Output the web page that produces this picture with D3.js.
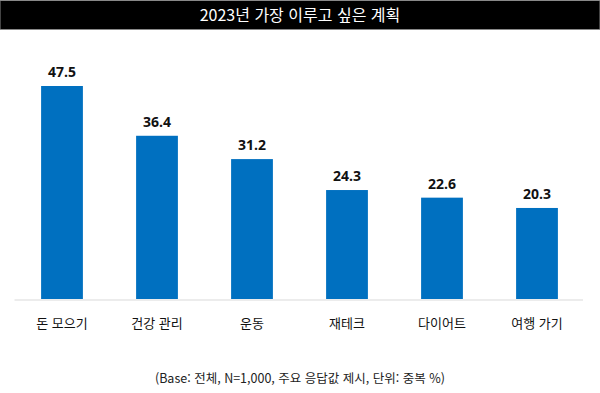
<!DOCTYPE html>
<html lang="ko">
<head>
    <meta charset="UTF-8">
    <title>2023년 가장 이루고 싶은 계획</title>
    <script src="https://d3js.org/d3.v7.min.js"></script>
    <style>
        body { margin: 0; background: #fff; }
        .cat { font-family: "Noto Sans CJK KR", sans-serif; font-size: 13px; fill: #111; }
        .val { font-family: "Open Sans", "Noto Sans", sans-serif; font-size: 14px; font-weight: 700; fill: #111; }
        .title { font-family: "Noto Sans CJK KR", sans-serif; font-size: 16px; fill: #fff; }
        .note { font-family: "Noto Sans CJK KR", sans-serif; font-size: 12.5px; fill: #222; }
    </style>
</head>
<body>
<div id="chart"></div>
<script>
    // data
    const categories = ["돈 모으기", "건강 관리", "운동", "재테크", "다이어트", "여행 가기"];
    const values = [47.5, 36.4, 31.2, 24.3, 22.6, 20.3];
    const title = "2023년 가장 이루고 싶은 계획";
    const note = "(Base: 전체, N=1,000, 주요 응답값 제시, 단위: 중복 %)";

    const W = 600, H = 393;
    const svg = d3.select("#chart").append("svg")
        .attr("width", W).attr("height", H);

    // title bar
    svg.append("rect")
        .attr("x", 0).attr("y", 0.5).attr("width", W).attr("height", 29)
        .attr("fill", "#000").attr("stroke", "#888").attr("stroke-width", 1);
    svg.append("text").attr("class", "title")
        .attr("x", W / 2).attr("y", 21)
        .attr("text-anchor", "middle")
        .text(title);

    const baseY = 299;
    const x = d3.scaleBand()
        .domain(categories)
        .range([14.5, 584.5])
        .paddingInner(0.56)
        .paddingOuter(0.28);
    const y = d3.scaleLinear()
        .domain([0, 47.5])
        .range([baseY, 86]);

    const data = categories.map((c, i) => ({ cat: c, v: values[i] }));

    svg.selectAll(".bar").data(data).enter().append("rect")
        .attr("class", "bar")
        .attr("x", d => x(d.cat))
        .attr("y", d => y(d.v))
        .attr("width", x.bandwidth())
        .attr("height", d => baseY - y(d.v))
        .attr("fill", "#0070C0");

    svg.selectAll(".val").data(data).enter().append("text")
        .attr("class", "val")
        .attr("x", d => x(d.cat) + x.bandwidth() / 2)
        .attr("y", d => y(d.v) - 9)
        .attr("text-anchor", "middle")
        .text(d => d.v.toFixed(1));

    // baseline
    svg.append("line")
        .attr("x1", 14.5).attr("x2", 583)
        .attr("y1", baseY + 1).attr("y2", baseY + 1)
        .attr("stroke", "#d9d9d9").attr("stroke-width", 1.2);

    svg.selectAll(".cat").data(categories).enter().append("text")
        .attr("class", "cat")
        .attr("x", d => x(d) + x.bandwidth() / 2)
        .attr("y", 328)
        .attr("text-anchor", "middle")
        .text(d => d);

    svg.append("text").attr("class", "note")
        .attr("x", 300).attr("y", 383)
        .attr("text-anchor", "middle")
        .text(note);
</script>
</body>
</html>
